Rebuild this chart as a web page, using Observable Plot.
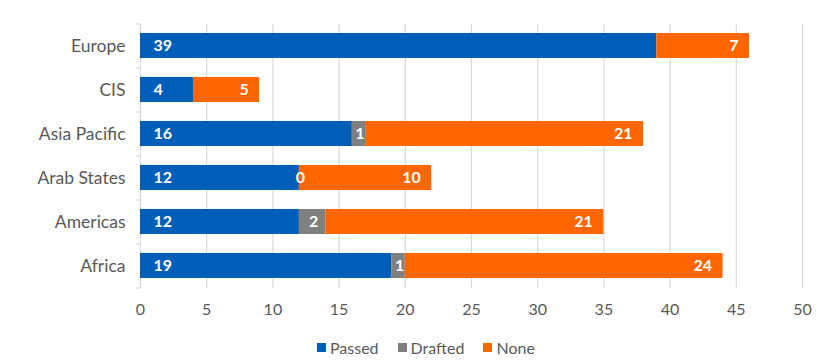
<!DOCTYPE html>
<html>
<head>
<meta charset="utf-8">
<script src="https://cdn.jsdelivr.net/npm/d3@7"></script>
<script src="https://cdn.jsdelivr.net/npm/@observablehq/plot@0.6"></script>
<style>
  body { margin: 0; background: #fff; font-family: Lato, "Open Sans", sans-serif; }
  #wrap { width: 825px; position: relative; }
  .legend { display: flex; align-items: center; padding-left: 317px; margin-top: 8px; font-size: 16px; color: #595959; }
  .legend .item { display: flex; align-items: center; margin-right: 19px; }
  .legend .sw { width: 9px; height: 9px; margin-right: 4px; }
</style>
</head>
<body>
<div id="wrap"></div>
<script>
const regions = ["Europe", "CIS", "Asia Pacific", "Arab States", "Americas", "Africa"];
const statuses = ["Passed", "Drafted", "None"];
const colors = ["#005EB8", "#808080", "#FF6600"];
const passed = [39, 4, 16, 12, 12, 19];
const drafted = [null, null, 1, 0, 2, 1];
const none = [7, 5, 21, 10, 21, 24];
const xTicks = [0, 5, 10, 15, 20, 25, 30, 35, 40, 45, 50];

const series = {Passed: passed, Drafted: drafted, None: none};
const data = [];
regions.forEach((r, i) => statuses.forEach(s => data.push({region: r, status: s, value: series[s][i]})));

const labelFor = s => d => (d.status === s && d.value != null) ? String(d.value) : null;

const chart = Plot.plot({
  width: 825,
  height: 330,
  marginTop: 24,
  marginBottom: 42,
  marginLeft: 140,
  marginRight: 23,
  style: {fontFamily: "Lato, 'Open Sans', sans-serif", fontSize: "16px", color: "#595959"},
  x: {domain: [0, 50], ticks: xTicks},
  y: {domain: regions, paddingInner: 0.43, paddingOuter: 0.215},
  color: {domain: statuses, range: colors},
  marks: [
    Plot.ruleX(xTicks, {stroke: "#d9d9d9", strokeWidth: 1.2}),
    Plot.ruleY(regions, {y: d => d, x1: -0.3, x2: 0, dy: -22, stroke: "#d9d9d9", strokeWidth: 1.2}),
    Plot.ruleY([regions[regions.length - 1]], {y: d => d, x1: -0.3, x2: 0, dy: 22, stroke: "#d9d9d9", strokeWidth: 1.2}),
    Plot.barX(data, {y: "region", x: "value", fill: "status", order: statuses}),
    Plot.text(data, Plot.stackX1({y: "region", x: "value", z: "status", order: statuses, text: labelFor("Passed"), textAnchor: "start", dx: 13, fill: "white", fontWeight: "bold", fontSize: 16})),
    Plot.text(data, Plot.stackX({y: "region", x: "value", z: "status", order: statuses, text: labelFor("Drafted"), textAnchor: "middle", dx: 1, fill: "white", fontWeight: "bold", fontSize: 16})),
    Plot.text(data, Plot.stackX2({y: "region", x: "value", z: "status", order: statuses, text: labelFor("None"), textAnchor: "end", dx: -11, fill: "white", fontWeight: "bold", fontSize: 16})),
    Plot.axisX({ticks: xTicks, tickSize: 0, tickPadding: 15, fill: "#595959", label: null, fontSize: 16}),
    Plot.axisY({tickSize: 0, tickPadding: 15, fill: "#595959", label: null, fontSize: 17.5})
  ]
});

const wrap = document.getElementById("wrap");
wrap.appendChild(chart);

const legend = document.createElement("div");
legend.className = "legend";
statuses.forEach((s, i) => {
  const item = document.createElement("div");
  item.className = "item";
  const sw = document.createElement("span");
  sw.className = "sw";
  sw.style.background = colors[i];
  const t = document.createElement("span");
  t.textContent = s;
  item.appendChild(sw);
  item.appendChild(t);
  legend.appendChild(item);
});
wrap.appendChild(legend);
</script>
</body>
</html>
